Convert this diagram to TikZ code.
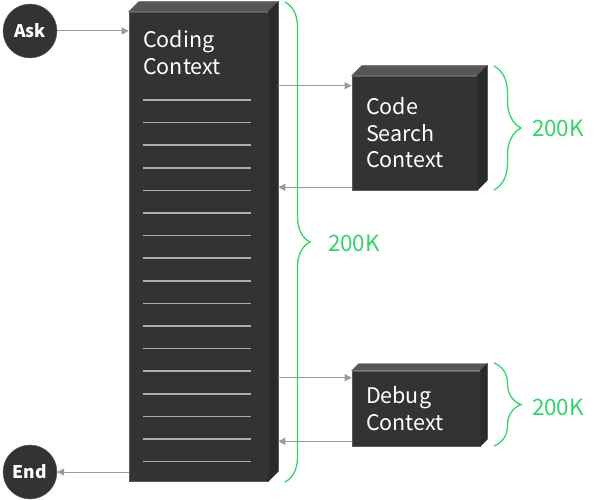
\documentclass[tikz,border=0pt]{standalone}
\usepackage{fontspec}
\newfontfamily\uifont{Noto Sans CJK SC}
\usetikzlibrary{arrows.meta, calc, decorations.pathreplacing}
\definecolor{boxfront}{HTML}{333333}
\definecolor{boxtop}{HTML}{575757}
\definecolor{boxside}{HTML}{2A2A2A}
\definecolor{flowgrey}{HTML}{9A9A9A}
\definecolor{braceg}{HTML}{33D46B}

\begin{document}
\begin{tikzpicture}[x=1pt, y=-1pt,
    cube/.style={fill=boxfront, draw=boxfront!80!white, line width=0.6pt,
        text=white, align=left, inner ysep=0pt,
        font={\uifont\fontsize{21.5}{26.5}\selectfont}},
    ends/.style={circle, fill=boxfront, draw=boxfront!80!white, text=white,
        minimum size=54pt, inner sep=0pt, font={\uifont\bfseries\fontsize{17.5}{20}\selectfont}},
    flow/.style={draw=flowgrey, line width=1pt, -{Triangle[length=7pt,width=7pt]}},
    rule/.style={draw=white!68!black, line width=1.5pt},
    bracket/.style={draw=braceg, line width=1.3pt, decorate,
        decoration={brace, amplitude=#1}},
    size/.style={text=braceg, font={\uifont\fontsize{22.5}{26}\selectfont}}]

    \useasboundingbox (0,0) rectangle (597,500);

    % the three context blocks
    \node[cube, minimum width=139pt, minimum height=469pt] (coding) at (198.5,246.5) {};
    \node[cube, minimum width=125pt, minimum height=114pt, text width=97pt, inner xsep=14pt]
        (search) at (414.5,133) {Code\\Search\\Context};
    \node[cube, minimum width=128pt, minimum height=75pt, text width=100pt, inner xsep=14pt]
        (debug) at (416,408.5) {Debug\\Context};

    % top and side faces
    \foreach \n/\d in {coding/10,search/10,debug/7} {
        \filldraw[fill=boxtop, draw=boxtop, line width=0.4pt] (\n.north west) -- ++(\d,-\d)
            -- ([shift={(\d,-\d)}]\n.north east) -- (\n.north east) -- cycle;
        \filldraw[fill=boxside, draw=boxside, line width=0.4pt] (\n.north east) -- ++(\d,-\d)
            -- ([shift={(\d,-\d)}]\n.south east) -- (\n.south east) -- cycle;
    }

    \node[text=white, align=left, anchor=north west, inner sep=0pt,
        font={\uifont\fontsize{21.5}{27}\selectfont}] (codingtxt) at (143,30) {Coding\\Context};

    % ruled lines
    \foreach \i in {0,...,16}
        \draw[rule] (143,{100+22.6*\i}) -- (251,{100+22.6*\i});

    \node[ends] (ask) at (30,31) {Ask};
    \node[ends] (end) at (30,472) {End};

    \coordinate (codingback) at ([xshift=10pt]coding.east);
    \coordinate (sin) at ([yshift=-10pt]search.north west);
    \coordinate (sout) at ([yshift=3pt]search.south west);
    \coordinate (din) at ([yshift=-7pt]debug.north west);
    \coordinate (dout) at ([yshift=5pt]debug.south west);

    \draw[flow] (ask) -- (ask -| coding.west);
    \draw[flow] (coding.west |- end) -- (end);
    \draw[flow] (codingback |- sin) -- (sin);
    \draw[flow] (sout) -- (codingback |- sout);
    \draw[flow] (codingback |- din) -- (din);
    \draw[flow] (dout) -- (codingback |- dout);

    % token budgets
    \draw[bracket=25pt] (285,2) -- (285,482);
    \draw[bracket=27pt] (494,66) -- (494,190);
    \draw[bracket=27pt] (494,363) -- (494,446);

    \node[size] (bigk) at (354,243) {200K};
    \node[size] (searchk) at (558,128) {200K};
    \node[size] (debugk) at (558,407) {200K};
\end{tikzpicture}
\end{document}
